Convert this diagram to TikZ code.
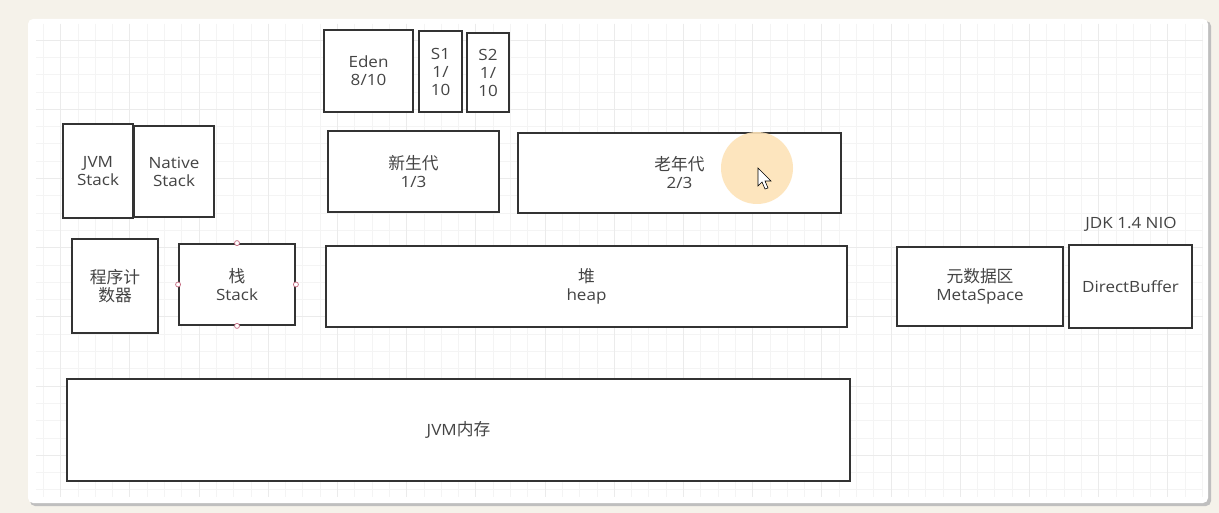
\documentclass[tikz,border=0pt]{standalone}
\usepackage{fontspec}
\setmainfont{Open Sans}[FakeStretch=1.1]
\newfontfamily\cjk{Noto Sans CJK SC}[Scale=1.08]
\begin{document}
\begin{tikzpicture}[x=1pt,y=-1pt,
  box/.style={draw=boxc, line width=1.8pt, fill=white, inner sep=0pt, align=center, text=txt,
    font=\fontsize{15.5}{18}\selectfont},
  handle/.style={draw=handc, fill=white, line width=0.7pt, circle, inner sep=0pt, minimum size=5pt},
  lbl/.style={text=txt, font=\fontsize{15.5}{18}\selectfont, inner sep=0pt}]
\definecolor{bg}{HTML}{F5F2EA}
\definecolor{boxc}{HTML}{333333}
\definecolor{txt}{HTML}{444444}
\definecolor{gridmin}{HTML}{F4F4F4}
\definecolor{gridmaj}{HTML}{EBEBEB}
\definecolor{handc}{HTML}{C46A80}
\definecolor{hl}{HTML}{FDE3B8}
\useasboundingbox (0,0) rectangle (1219,513);
\fill[bg] (0,0) rectangle (1219,513);
% canvas with shadow
\fill[black!25, rounded corners=5pt] (30,21) rectangle (1211,506);
\fill[white, rounded corners=5pt] (28,19) rectangle (1208,503);
% grid
\begin{scope}
\clip (36,24) rectangle (1203,497);
\foreach \i in {0,...,68} {
  \pgfmathsetmacro{\xx}{43.3+17.3*\i}
  \draw[gridmin, line width=0.7pt] (\xx,24) -- (\xx,497);
}
\foreach \i in {0,...,28} {
  \pgfmathsetmacro{\yy}{22.7+17.3*\i}
  \draw[gridmin, line width=0.7pt] (36,\yy) -- (1203,\yy);
}
\foreach \i in {0,...,17} {
  \pgfmathsetmacro{\xx}{60.6+69.2*\i}
  \draw[gridmaj, line width=0.8pt] (\xx,24) -- (\xx,497);
}
\foreach \i in {0,...,7} {
  \pgfmathsetmacro{\yy}{40+69.2*\i}
  \draw[gridmaj, line width=0.8pt] (36,\yy) -- (1203,\yy);
}
\end{scope}
% boxes
\node[box, minimum width=89pt, minimum height=82pt] (eden) at (368.5,71) {Eden\\8/10};
\node[box, minimum width=43pt, minimum height=81pt] (s1) at (440.5,71.5) {S1\\1/\\10};
\node[box, minimum width=42pt, minimum height=79pt] (s2) at (488,72.5) {S2\\1/\\10};
\node[box, minimum width=70pt, minimum height=94pt] (jvms) at (98,171) {JVM\\Stack};
\node[box, minimum width=80pt, minimum height=91pt] (nats) at (174,171.5) {Native\\Stack};
\node[box, minimum width=171pt, minimum height=81pt] (young) at (413.5,171.5) {{\cjk 新生代}\\1/3};
\node[box, minimum width=323pt, minimum height=80pt] (old) at (679.5,173) {{\cjk 老年代}\\2/3};
\node[box, minimum width=86pt, minimum height=94pt] (pc) at (115,286) {{\cjk 程序计}\\{\cjk 数器}};
\node[box, minimum width=116pt, minimum height=81pt] (stack) at (237,284.5) {{\cjk 栈}\\Stack};
\node[box, minimum width=521pt, minimum height=81pt] (heap) at (586.5,286.5) {{\cjk 堆}\\heap};
\node[box, minimum width=166pt, minimum height=79pt] (meta) at (980,286.5) {{\cjk 元数据区}\\MetaSpace};
\node[box, minimum width=123pt, minimum height=83pt] (direct) at (1130.5,286.5) {DirectBuffer};
\node[lbl] (nio) at (1131,224) {JDK 1.4 NIO};
\node[box, minimum width=783pt, minimum height=102pt] (mem) at (458.5,430) {JVM{\cjk 内存}};
% selection handles on Stack
\node[handle] (hn) at (stack.north) {};
\node[handle] (hs) at (stack.south) {};
\node[handle] (hw) at (stack.west) {};
\node[handle] (he) at (stack.east) {};
% cursor highlight
\fill[hl, opacity=0.9] (757,168) circle (36pt);
\draw[black, fill=white, line width=0.6pt, line join=miter]
  (758,168) -- (758,186) -- (762,182) -- (765,189) -- (768,188) -- (765,181) -- (771,181) -- cycle;
\end{tikzpicture}
\end{document}
